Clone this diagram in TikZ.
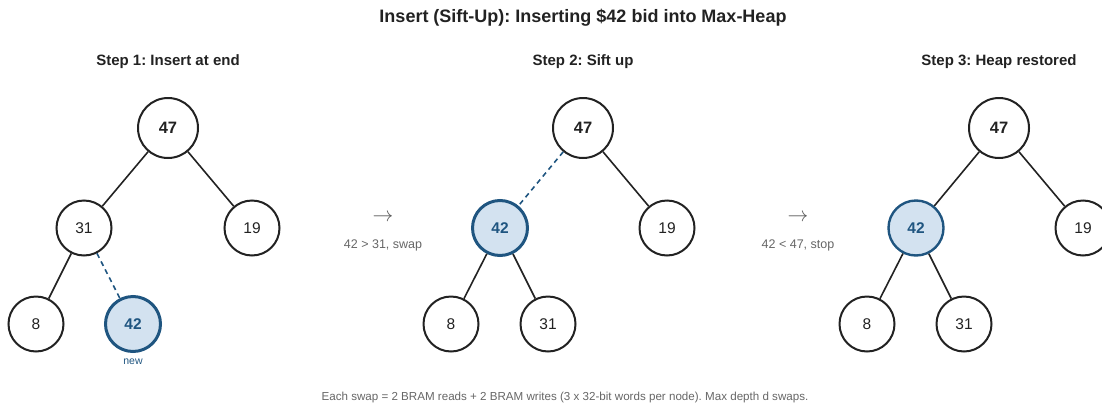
\documentclass[tikz,border=0pt]{standalone}
\usepackage{fontspec}
\setmainfont{Liberation Sans}
\frenchspacing
\definecolor{heapblue}{HTML}{1F5580}
\definecolor{heapfill}{HTML}{D3E2F0}
\definecolor{ink}{HTML}{222222}
\definecolor{note}{HTML}{666666}
\tikzset{
  key/.style={circle, draw=ink, line width=2pt, minimum size=55pt, inner sep=0pt, text=ink, font=\fontsize{15.5}{17}\selectfont},
  top/.style={key, minimum size=60pt, font=\fontsize{16.5}{18}\selectfont\bfseries},
  moved/.style={key, draw=heapblue, fill=heapfill, text=heapblue, line width=3pt, font=\fontsize{15.5}{17}\selectfont\bfseries},
  edge/.style={draw=ink, line width=1.6pt},
  swapedge/.style={draw=heapblue, line width=1.6pt, dash pattern=on 5pt off 4pt},
  head/.style={font=\fontsize{15}{17}\selectfont\bfseries, text=ink},
  note/.style={font=\fontsize{12.5}{14}\selectfont, text=note}
}
\begin{document}
\begin{tikzpicture}[x=1pt, y=-1pt]
  \useasboundingbox (0,0) rectangle (1102,407);
  \node[font=\fontsize{18}{20}\selectfont\bfseries, text=ink] (title) at (583,18) {Insert (Sift-Up): Inserting \$42 bid into Max-Heap};
  \foreach \i/\x/\s in{1/168/Insert at end, 2/583/Sift up, 3/999/Heap restored}{
    \node[head](H\i) at (\x, 62) {Step \i: \s};
  }
  % the three heaps, one per step
  \foreach \t/\x in{A/168, B/583, C/999}{
    \node[top](\t1) at (\x, 128) {47};
    \node[key](\t3) at (\x+84, 228) {19};
    \node[key](\t4) at (\x-132, 324) {8};
  }
  \node[key](A2) at (84, 228) {31};
  \node[moved](A5) at (133, 324) {42};
  \node[text=heapblue, font=\fontsize{10.5}{12}\selectfont](new) at (133, 362) {new};
  \node[moved](B2) at (500, 228) {42};
  \node[key](B5) at (548, 324) {31};
  \node[moved, line width=2.4pt](C2) at (916, 228) {42};
  \node[key](C5) at (964, 324) {31};
  \foreach \a/\b in{A1/A2, A1/A3, A2/A4, B1/B3, B2/B4, B2/B5, C1/C2, C1/C3, C2/C4, C2/C5}{
    \draw[edge](\a) -- (\b);
  }
  \draw[swapedge](A2) -- (A5);
  \draw[swapedge](B1) -- (B2);
  % comparisons between the steps
  \foreach \i/\x/\s in{1/383/{42 > 31, swap}, 2/798/{42 < 47, stop}}{
    \node[text=note!85!black, font=\fontsize{20}{20}\selectfont](R\i) at (\x, 218) {$\rightarrow$};
    \node[note](L\i) at (\x, 245) {\s};
  }
  \node[note, font=\fontsize{11.6}{13}\selectfont](foot) at (565, 397) {Each swap = 2 BRAM reads + 2 BRAM writes (3 x 32-bit words per node). Max depth d swaps.};
\end{tikzpicture}
\end{document}
